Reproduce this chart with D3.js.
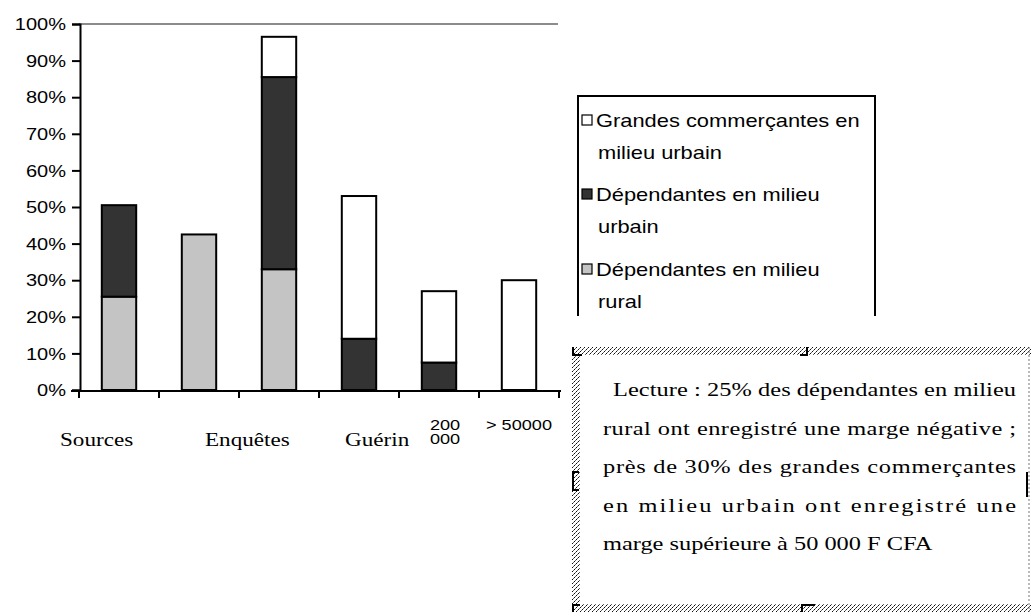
<!DOCTYPE html>
<html>
<head>
<meta charset="utf-8">
<script src="https://cdn.jsdelivr.net/npm/d3@7/dist/d3.min.js"></script>
<style>
  html, body { margin: 0; padding: 0; background: #fff; }
  svg { display: block; }
</style>
</head>
<body>
<svg id="chart" width="1031" height="612"></svg>
<script>
// ---- data ----
const categories = ["1", "2", "3", "4", "5", "6"];
const tickLabels = [[], [], [], [], ["200", "000"], ["> 50000"]];
const seriesNames = ["Dépendantes en milieu rural", "Dépendantes en milieu urbain", "Grandes commerçantes en milieu urbain"];
const depRural   = [25.5, 42.5, 33, 0, 0, 0];
const depUrbain  = [25, 0, 52.5, 14, 7.5, 0];
const grandes    = [0, 0, 11, 39, 19.5, 30];
const yTicks = [0, 10, 20, 30, 40, 50, 60, 70, 80, 90, 100];
const legendLines = [
  ["Grandes commerçantes en", "milieu urbain"],
  ["Dépendantes en milieu", "urbain"],
  ["Dépendantes en milieu", "rural"]
];
const sourceWords = ["Sources", "Enquêtes", "Guérin"];
const noteLines = [
  "Lecture : 25% des dépendantes en milieu",
  "rural ont enregistré une marge négative ;",
  "près de 30% des grandes commerçantes",
  "en milieu urbain ont enregistré une",
  "marge supérieure à 50 000 F CFA"
];

// ---- layout ----
const SX = 1.25; // horizontal stretch of the scanned text
const svg = d3.select("#chart");
const sans = "'Liberation Sans', Arial, sans-serif";
const serif = "'Liberation Serif', 'Times New Roman', serif";
const colors = ["#c4c4c4", "#333333", "#ffffff"];

const x = d3.scaleBand().domain(categories).range([79, 559]).padding(0);
const y = d3.scaleLinear().domain([0, 100]).range([390, 24]);

const rows = categories.map((c, i) => ({ cat: c, s0: depRural[i], s1: depUrbain[i], s2: grandes[i] }));
const stack = d3.stack().keys(["s0", "s1", "s2"])(rows);

// top plot border (grey)
svg.append("line")
  .attr("x1", x.range()[0]).attr("x2", x.range()[1] - 1)
  .attr("y1", y(100)).attr("y2", y(100))
  .attr("stroke", "#8c8c8c").attr("stroke-width", 2);

// bars
const barW = x.bandwidth() * 0.43;
stack.forEach((layer, li) => {
  svg.append("g").selectAll("rect")
    .data(layer.filter(d => d[1] - d[0] > 0))
    .join("rect")
    .attr("x", d => x(d.data.cat) + (x.bandwidth() - barW) / 2)
    .attr("width", barW)
    .attr("y", d => y(d[1]))
    .attr("height", d => y(d[0]) - y(d[1]))
    .attr("fill", colors[li])
    .attr("stroke", "#000")
    .attr("stroke-width", 2);
});

// y axis
const yAxis = svg.append("g")
  .attr("transform", `translate(${x.range()[0] + 1},0)`)
  .call(d3.axisLeft(y).tickValues(yTicks).tickFormat(d => d + "%").tickSize(8).tickPadding(0));
yAxis.select(".domain").attr("stroke", "#000").attr("stroke-width", 2);
yAxis.selectAll(".tick line").attr("stroke", "#000").attr("stroke-width", 2);
yAxis.selectAll(".tick text")
  .attr("x", -14 / SX)
  .attr("dy", "0.36em")
  .attr("transform", `scale(${SX},1)`)
  .attr("font-family", sans).attr("font-size", 16).attr("fill", "#000");

// x axis line and boundary ticks
svg.append("line")
  .attr("x1", x.range()[0] - 8).attr("x2", x.range()[1] + 2)
  .attr("y1", y(0) + 1).attr("y2", y(0) + 1)
  .attr("stroke", "#000").attr("stroke-width", 2);
const bounds = categories.map(c => x(c)).concat([x.range()[1]]);
svg.append("g").selectAll("line").data(bounds).join("line")
  .attr("x1", d => d).attr("x2", d => d)
  .attr("y1", y(0) + 1).attr("y2", y(0) + 8)
  .attr("stroke", "#000").attr("stroke-width", 2);

// x tick labels
categories.forEach((c, i) => {
  tickLabels[i].forEach((t, j) => {
    svg.append("text")
      .attr("transform", `translate(${x(c) + x.bandwidth() / 2 + (tickLabels[i].length > 1 ? 6 : 0)},${430 + j * 14}) scale(${SX},1)`)
      .attr("text-anchor", "middle")
      .attr("font-family", sans).attr("font-size", 14.5)
      .text(t);
  });
});

// source line
const sourceX = [60, 205, 345];
sourceWords.forEach((w, i) => {
  svg.append("text")
    .attr("transform", `translate(${sourceX[i]},446) scale(${SX},1)`)
    .attr("font-family", serif).attr("font-size", 18.5)
    .text(w);
});

// legend
const lg = svg.append("g");
lg.append("path")
  .attr("d", "M578,316 L578,96 L875,96 L875,316")
  .attr("fill", "none").attr("stroke", "#000").attr("stroke-width", 2);
const legendColors = [colors[2], colors[1], colors[0]];
const legendY = [127, 201, 276];
legendLines.forEach((lines, i) => {
  lg.append("rect")
    .attr("x", 582).attr("y", legendY[i] - 12)
    .attr("width", 10).attr("height", 10)
    .attr("fill", legendColors[i]).attr("stroke", "#000").attr("stroke-width", 1.2);
  lines.forEach((t, j) => {
    lg.append("text")
      .attr("transform", `translate(${j === 0 ? 596 : 598},${legendY[i] + j * 32}) scale(${SX},1)`)
      .attr("font-family", sans).attr("font-size", 17.5)
      .text(t);
  });
});

// note text box with hatched border
const defs = svg.append("defs");
const pat = defs.append("pattern").attr("id", "hatch")
  .attr("patternUnits", "userSpaceOnUse").attr("width", 4).attr("height", 4);
pat.append("rect").attr("width", 4).attr("height", 4).attr("fill", "#fff");
[[0, 3, "#111"], [2, 1, "#111"], [1, 2, "#666"], [3, 0, "#666"]].forEach(([px, py, c]) =>
  pat.append("rect").attr("x", px).attr("y", py).attr("width", 1).attr("height", 1).attr("fill", c));

const bx = 572, by = 347, bw = 470, bh = 270, band = 8;
const nb = svg.append("g");
nb.append("rect").attr("x", bx).attr("y", by).attr("width", bw).attr("height", band).attr("fill", "url(#hatch)");
nb.append("rect").attr("x", bx).attr("y", by).attr("width", band).attr("height", bh).attr("fill", "url(#hatch)");
nb.append("rect").attr("x", bx).attr("y", 604).attr("width", bw).attr("height", band).attr("fill", "url(#hatch)");
nb.append("line").attr("x1", 1029).attr("x2", 1029).attr("y1", by).attr("y2", 612)
  .attr("stroke", "#777").attr("stroke-width", 1).attr("stroke-dasharray", "2,2");
// handles
const handles = [
  "M573,347 L573,355 L582,355",
  "M807,347 L807,355 L800,355",
  "M579,472 L573,472 L573,490 L579,490",
  "M573,612 L573,605 L580,605",
  "M802,612 L802,605 L815,605",
  "M1027,472 L1027,497"
];
nb.selectAll("path").data(handles).join("path")
  .attr("d", d => d).attr("fill", "none").attr("stroke", "#000").attr("stroke-width", 2);

const noteX0 = 603, noteX1 = 1016;
noteLines.forEach((t, i) => {
  const indent = i === 0 ? 10 : 0;
  const txt = nb.append("text")
    .attr("transform", `translate(${noteX0 + indent},${396 + i * 38.5}) scale(${SX},1)`)
    .attr("font-family", serif).attr("font-size", 19.5)
    .text(t);
  if (i < noteLines.length - 1) {
    txt.attr("textLength", (noteX1 - noteX0 - indent) / SX).attr("lengthAdjust", "spacing");
  }
});
</script>
</body>
</html>
